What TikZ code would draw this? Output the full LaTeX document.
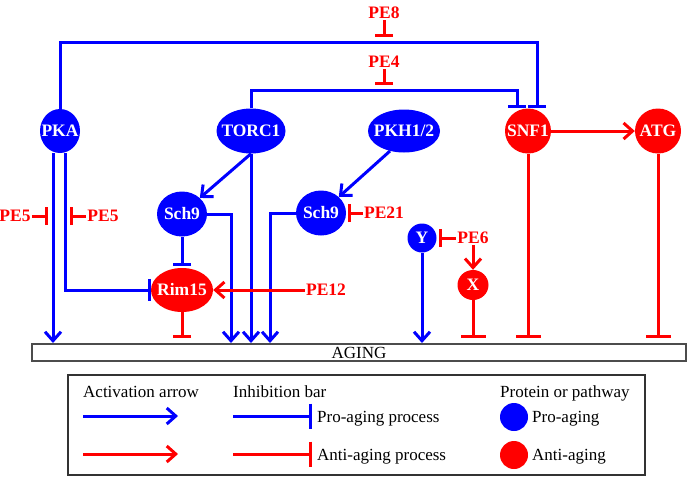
\documentclass[tikz,border=0pt]{standalone}
\usepackage{fontspec}
\setmainfont{Liberation Serif}
\usepackage{xcolor}
\usetikzlibrary{arrows.meta,shapes.geometric,positioning}
\def\nlab#1{\makebox[0pt]{#1}}

\begin{document}
\begin{tikzpicture}[x=1pt,y=-1pt,font=\fontsize{17}{20}\selectfont,
	pro/.style={ellipse,fill=blue,text=white,inner sep=0pt,font=\fontsize{17.5}{20}\selectfont\bfseries},
	anti/.style={pro,fill=red},
	lbl/.style={text=red,inner sep=1pt,font=\fontsize{17.5}{20}\selectfont\bfseries},
	txt/.style={anchor=base west,inner sep=0pt},
	actb/.style={blue,line width=3pt,-{Straight Barb[length=9pt,width=16pt]}},
	actr/.style={actb,red},
	inhb/.style={blue,line width=3pt,-{Bar[width=18pt]}},
	inhr/.style={inhb,red},
	inhbw/.style={blue,line width=3pt,-{Bar[width=25pt]}},
	inhrw/.style={inhbw,red}]
					\useasboundingbox (0,0) rectangle (688,480);
					\node[pro,minimum width=40pt,minimum height=44pt] (pka) at (60,131) {\nlab{PKA}};
					\node[pro,minimum width=69pt,minimum height=45pt] (torc) at (251,131) {\nlab{TORC1}};
					\node[pro,minimum width=72pt,minimum height=43pt] (pkh) at (404,131) {\nlab{PKH1/2}};
					\node[anti,minimum width=46pt,minimum height=45pt] (snf) at (528,131) {\nlab{SNF1}};
					\node[anti,minimum width=46pt,minimum height=45pt] (atg) at (658,131) {\nlab{ATG}};
					\node[pro,minimum width=50pt,minimum height=45pt] (schA) at (182,214) {\nlab{Sch9}};
					\node[pro,minimum width=50pt,minimum height=45pt] (schB) at (321,213) {\nlab{Sch9}};
					\node[anti,minimum width=62pt,minimum height=44pt] (rim) at (182,290) {\nlab{Rim15}};
					\node[pro,minimum width=29pt,minimum height=29pt] (y) at (422,238) {\nlab{Y}};
					\node[anti,minimum width=31pt,minimum height=30pt] (x) at (473,285) {\nlab{X}};
					\node[draw=black!70,line width=1.5pt,minimum width=654pt,minimum height=17pt,inner sep=0pt] (aging) at (359,352.5) {AGING};
					\node[lbl] (pe8) at (384,13) {PE8};
					\node[lbl] (pe4) at (384,62) {PE4};
					\node[lbl] (pe5a) at (15,216) {PE5};
					\node[lbl] (pe5b) at (103,216) {PE5};
					\node[lbl] (pe21) at (384,213) {PE21};
					\node[lbl] (pe12) at (326,290) {PE12};
					\node[lbl] (pe6) at (473,238) {PE6};
					\coordinate (e8) at (537,42);
					\coordinate (e4) at (517,90);
					\coordinate (t8) at (384,37);
					\coordinate (t4) at (384,85);
					\coordinate (t5a) at (48,216);
					\coordinate (t5b) at (70,216);
					\coordinate (g1) at (53,343);
					\coordinate (g3) at (231,343);
					\coordinate (g5) at (270,343);
					\coordinate (b1) at (182,338);
					\draw[inhb] (pka.north) |- (e8) -- (e8 |- snf.north);
					\draw[inhb] (torc.north) |- (e4) -- (e4 |- snf.north);
					\draw[inhr] (pe8) -- (t8);
					\draw[inhr] (pe4) -- (t4);
					\draw[actb] ([xshift=-7pt]pka.south) -- (g1);
					\draw[inhb,-{Bar[width=22pt]}] ([xshift=5pt]pka.south) |- (rim.west);
					\draw[inhr] (pe5a) -- (t5a);
					\draw[inhr] (pe5b) -- (t5b);
					\draw[actb] (torc.south) -- (schA.north east);
					\draw[actb] (torc.south) -- (torc.south |- g1);
					\draw[actb] (schA.east) -| (g3);
					\draw[actb] (schB.west) -| (g5);
					\draw[actb] (pkh.235) -- (schB.north east);
					\draw[inhr,shorten >=2pt] (pe21) -- (schB.east);
					\draw[inhb,shorten >=2pt] (schA.south) -- (rim.north);
					\draw[inhr] (rim.south) -- (b1);
					\draw[actr] (pe12) -- (rim.east);
					\draw[actb] (y.south) -- (y.south |- g1);
					\draw[inhr,shorten >=2pt] (pe6) -- (y.east);
					\draw[actr] (pe6) -- (x);
					\draw[inhrw] (x.south) -- (x.south |- b1);
					\draw[inhrw] (snf.south) -- (snf.south |- b1);
					\draw[inhrw] (atg.south) -- (atg.south |- b1);
					\draw[actr] (snf) -- (atg);
					\draw[black!80,line width=1.5pt] (68,375) rectangle (645,475);
					\node[txt] (lact) at (83,397.5) {Activation arrow};
					\node[txt] (linh) at (233,397.5) {Inhibition bar};
					\node[txt] (lprot) at (500,397.5) {Protein or pathway};
					\node[txt] (lpi) at (317,422) {Pro-aging process};
					\node[txt] (lai) at (317,460) {Anti-aging process};
					\node[txt] (lpro) at (532,422) {Pro-aging};
					\node[txt] (lanti) at (532,460) {Anti-aging};
					\node[circle,fill=blue,minimum size=28pt,inner sep=0pt] (cpro) at (514,417) {};
					\node[circle,fill=red,minimum size=28pt,inner sep=0pt] (canti) at (514,455) {};
					\coordinate (a1) at (83,416);
					\coordinate (a2) at (178,416);
					\coordinate (a3) at (83,454);
					\coordinate (a4) at (178,454);
					\coordinate (i1) at (233,416);
					\coordinate (i2) at (312,416);
					\coordinate (i3) at (233,454);
					\coordinate (i4) at (312,454);
					\draw[actb] (a1) -- (a2);
					\draw[actr] (a3) -- (a4);
					\draw[inhbw] (i1) -- (i2);
					\draw[inhrw] (i3) -- (i4);
				\end{tikzpicture}
\end{document}
